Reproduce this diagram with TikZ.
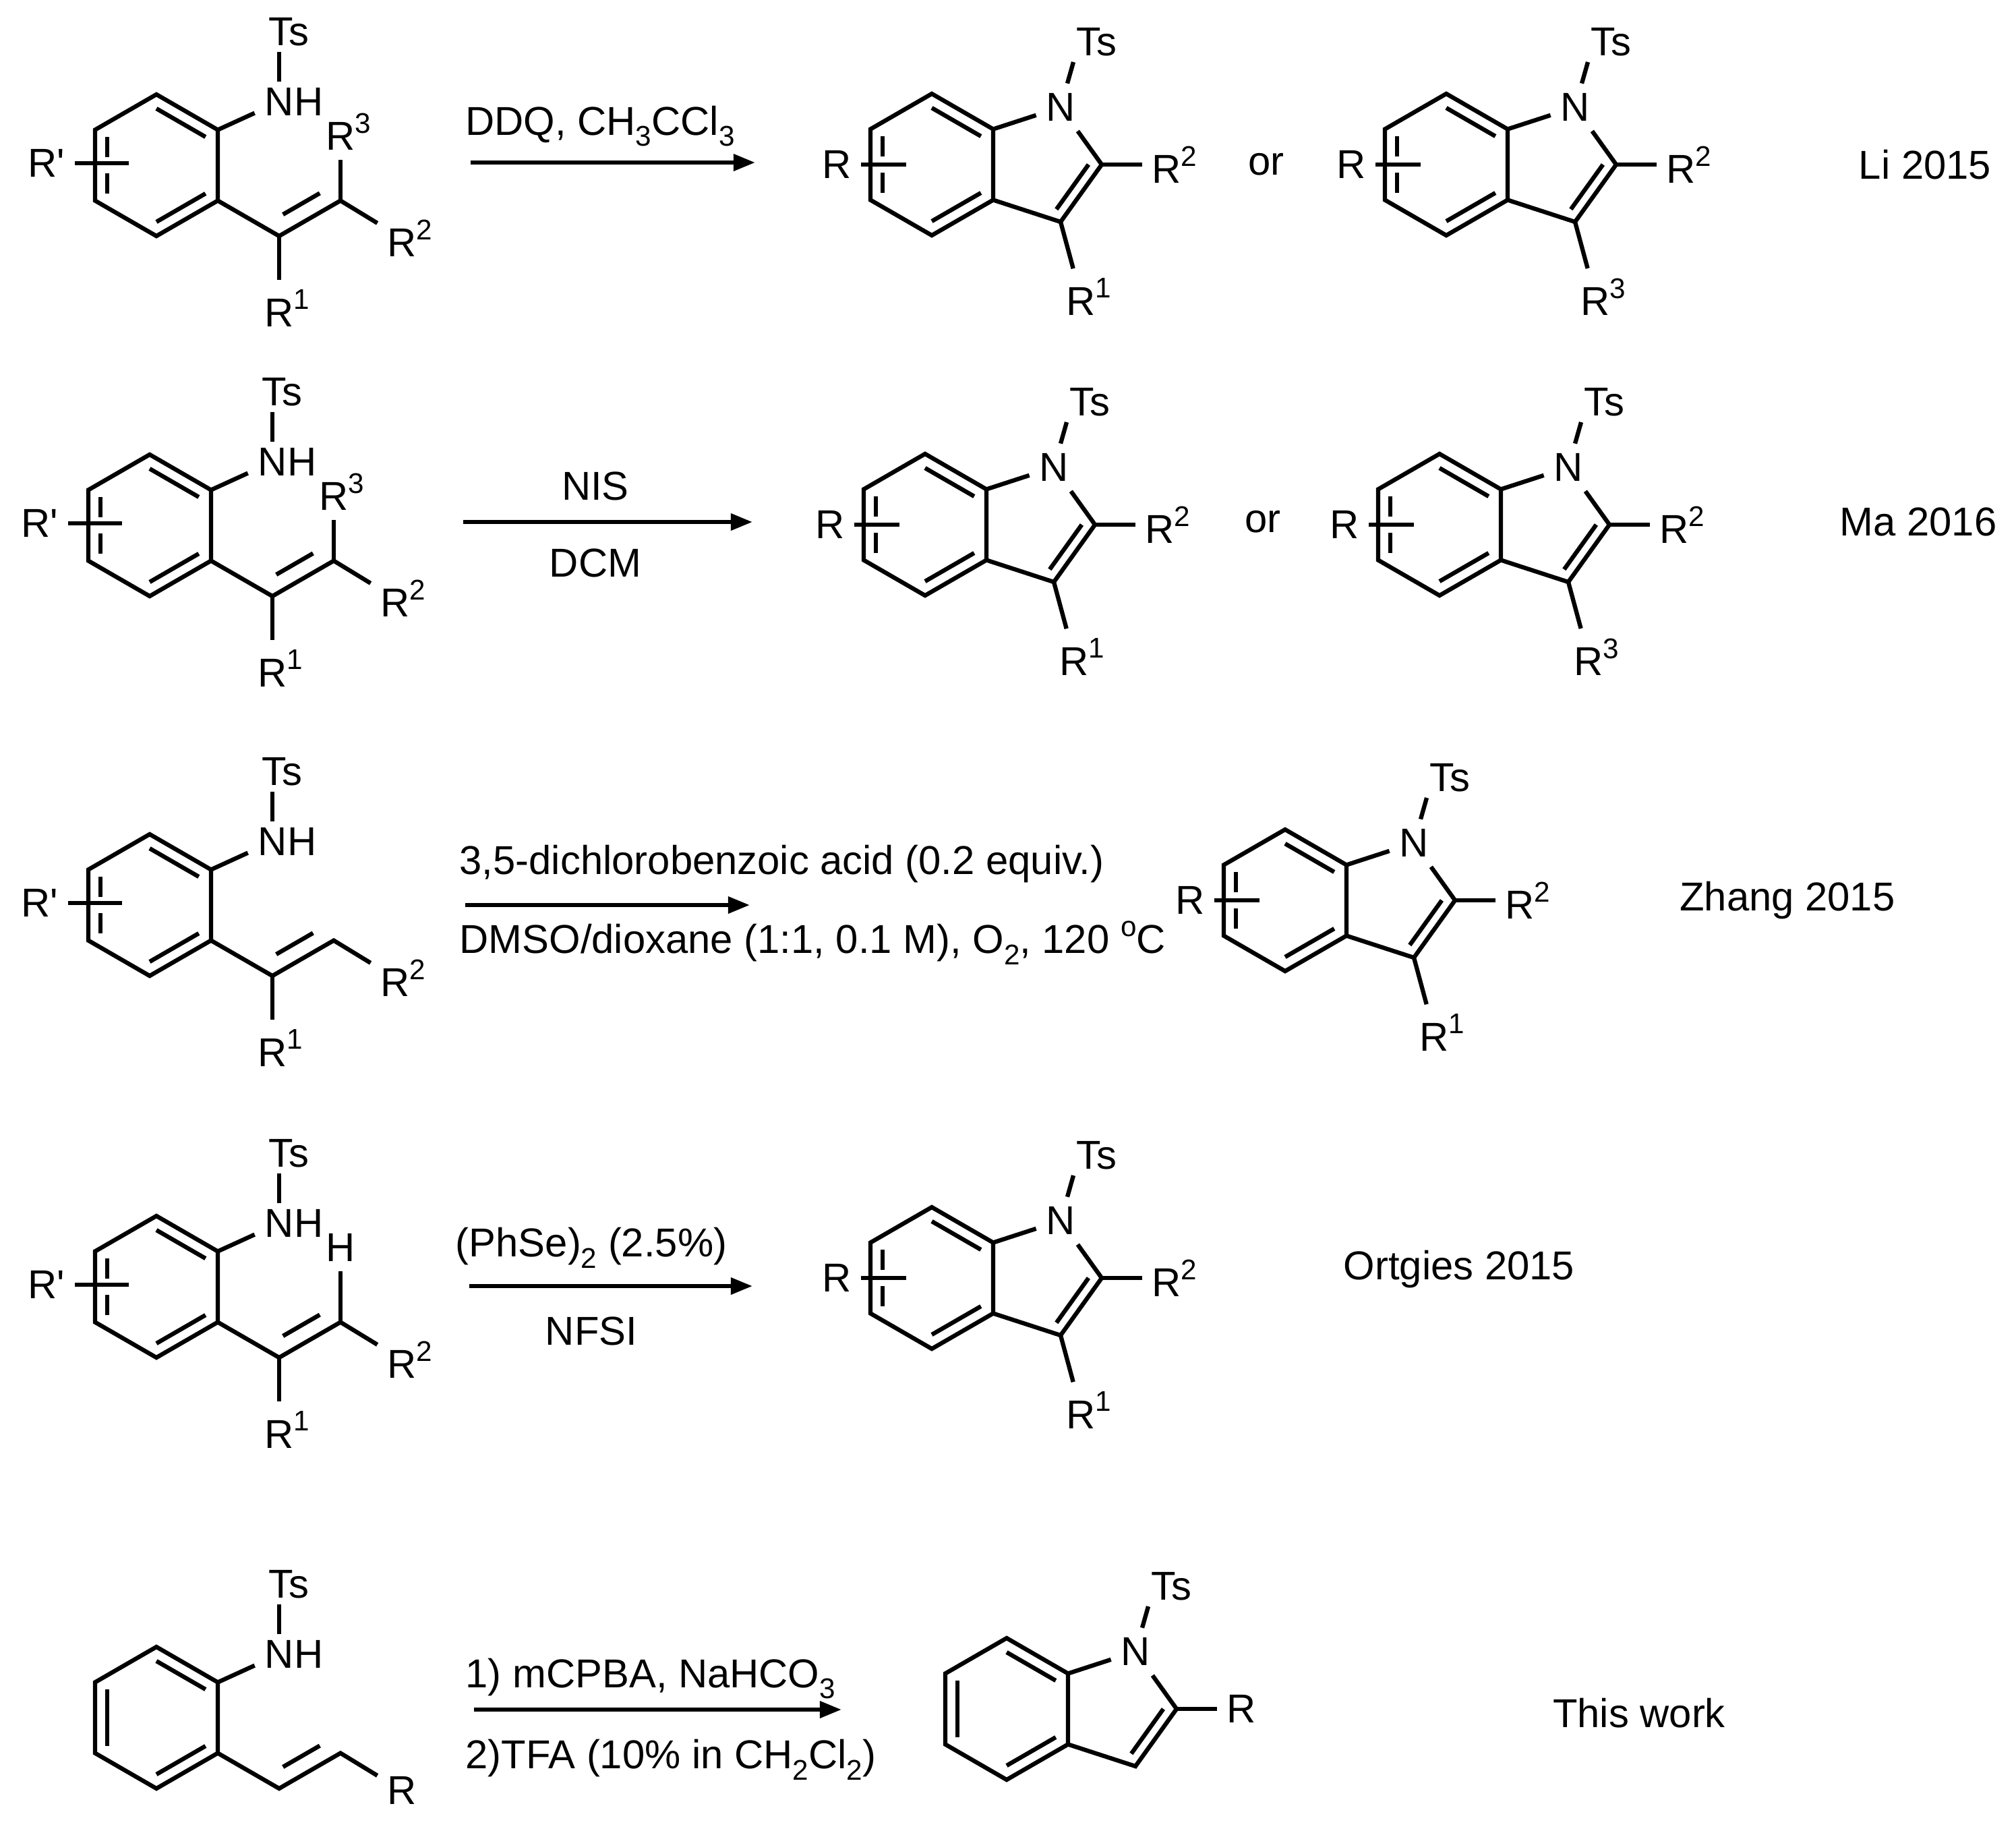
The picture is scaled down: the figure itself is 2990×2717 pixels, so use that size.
\documentclass[tikz,border=0pt]{standalone}
\usepackage{fontspec}
\setmainfont{Liberation Sans}
\usetikzlibrary{calc,arrows.meta}
\newcommand\chemfont{\fontsize{17}{20}\selectfont}
\newcommand\chemsup[1]{\raisebox{0.42em}{\fontsize{12}{12}\selectfont #1}}
\newcommand\chemsub[1]{\raisebox{-0.28em}{\fontsize{12}{12}\selectfont #1}}
\newcommand\Rn[1]{R\rlap{\chemsup{#1}}}
\tikzset{
  bond/.style={line width=1.8pt},
  atom/.style={inner sep=4pt,font=\chemfont},
  txt/.style={inner sep=0pt,font=\chemfont},
  arr/.style={line width=1.8pt,-{Triangle[length=0.32cm,width=0.24cm]}}
}
% aniline core: prefix, cx, cy, R2 label
\newcommand\anil[4]{%
 \coordinate (#1c) at (#2,#3);
 \coordinate (#1a) at (#2,{#3-105});
 \coordinate (#1b) at ({#2+91},{#3-52.5});
 \coordinate (#1d) at ({#2+91},{#3+52.5});
 \coordinate (#1e) at (#2,{#3+105});
 \coordinate (#1f) at ({#2-91},{#3+52.5});
 \coordinate (#1g) at ({#2-91},{#3-52.5});
 \draw[bond] (#1a)--(#1b)--(#1d)--(#1e)--(#1f)--(#1g)--cycle;
 \draw[bond] ($(#1a)!0.2!(#1c)$)--($(#1b)!0.2!(#1c)$);
 \draw[bond] ($(#1d)!0.2!(#1c)$)--($(#1e)!0.2!(#1c)$);
 \node[atom] (#1N) at ({#2+182},{#3-94}) {N};
 \node[txt,anchor=west,xshift=-4pt] (#1H) at (#1N.east) {H};
 \node[atom] (#1Ts) at ({#2+196},{#3-198}) {Ts};
 \draw[bond] (#1b)--(#1N);
 \draw[bond,shorten <=-1.5pt,shorten >=-1.5pt] (#1N)--(#1N |- #1Ts.south);
 \coordinate (#1Ca) at ({#2+182},{#3+105});
 \coordinate (#1Cb) at ({#2+273},{#3+52.5});
 \node[atom] (#1R2) at ({#2+364},{#3+108}) {#4};
 \draw[bond] (#1d)--(#1Ca)--(#1Cb)--(#1R2);
 \draw[bond] ($(#1Ca)+(5.7,-32)$)--($(#1Cb)+(-30.7,-11)$);
}
% R' substituent on aniline ring
\newcommand\rprime[3]{%
 \draw[bond] ({#2-73},{#3-42})--({#2-73},{#3-12});
 \draw[bond] ({#2-73},{#3+12})--({#2-73},{#3+42});
 \node[atom] (#1Rp) at ({#2-163},{#3-3}) {R\textquotesingle};
 \coordinate (#1Rpe) at ({#2-41},{#3-3});
 \draw[bond] (#1Rp)--(#1Rpe);
}
% indole core: prefix, cx, cy, C2 label
\newcommand\indo[4]{%
 \coordinate (#1c) at (#2,#3);
 \coordinate (#1a) at (#2,{#3-105});
 \coordinate (#1b) at ({#2+91},{#3-52.5});
 \coordinate (#1d) at ({#2+91},{#3+52.5});
 \coordinate (#1e) at (#2,{#3+105});
 \coordinate (#1f) at ({#2-91},{#3+52.5});
 \coordinate (#1g) at ({#2-91},{#3-52.5});
 \coordinate (#1pc) at ({#2+163},#3);
 \coordinate (#1C2) at ({#2+252},#3);
 \coordinate (#1C3) at ({#2+191},{#3+85});
 \node[atom] (#1N) at ({#2+191},{#3-85}) {N};
 \draw[bond] (#1a)--(#1b)--(#1d)--(#1e)--(#1f)--(#1g)--cycle;
 \draw[bond] ($(#1a)!0.2!(#1c)$)--($(#1b)!0.2!(#1c)$);
 \draw[bond] ($(#1d)!0.2!(#1c)$)--($(#1e)!0.2!(#1c)$);
 \draw[bond] (#1b)--(#1N)--(#1C2)--(#1C3)--(#1d);
 \draw[bond] ($(#1C2)!0.22!(#1pc)$)--($(#1C3)!0.22!(#1pc)$);
 \node[atom] (#1Ts) at ({#2+244},{#3-182}) {Ts};
 \coordinate (#1Tse) at ({#2+210},{#3-152});
 \draw[bond] (#1N)--(#1Tse);
 \node[atom] (#1R2) at ({#2+348},#3) {#4};
 \draw[bond] (#1C2)--(#1R2);
}
\newcommand\ringR[3]{%
 \draw[bond] ({#2-73},{#3-42})--({#2-73},{#3-12});
 \draw[bond] ({#2-73},{#3+12})--({#2-73},{#3+42});
 \node[atom] (#1R) at ({#2-141},#3) {R};
 \coordinate (#1Re) at ({#2-38},#3);
 \draw[bond] (#1R)--(#1Re);
}
\newcommand\indoRone[4]{% prefix cx cy label
 \node[atom] (#1R1) at ({#2+221},{#3+196}) {#4};
 \draw[bond] (#1C3)--(#1R1);
}
\begin{document}
\begin{tikzpicture}[x=0.01cm,y=-0.01cm]
\useasboundingbox (0,0) rectangle (2990,2717);
% ---------- row 1 ----------
\anil{sa}{232}{245}{\Rn{2}}
\rprime{sa}{232}{245}
\node[atom] (saR1) at (414,457) {\Rn{1}};
\draw[bond] (saCa)--(saR1);
\node[atom] (saR3) at (505,195) {\Rn{3}};
\draw[bond] (saCb)--(saR3);
\coordinate (aas) at (698,241); \coordinate (aae) at (1120,241);
\draw[arr] (aas)--(aae);
\node[txt] (ta1) at (890,187) {DDQ, CH\chemsub{3}CCl\chemsub{3}};
\indo{pa}{1382}{244}{\Rn{2}} \ringR{pa}{1382}{244} \indoRone{pa}{1382}{244}{\Rn{1}}
\node[txt] (ora) at (1878,244) {or};
\indo{qa}{2145}{244}{\Rn{2}} \ringR{qa}{2145}{244} \indoRone{qa}{2145}{244}{\Rn{3}}
\node[txt] (la) at (2855,244) {Li 2015};
% ---------- row 2 ----------
\anil{sb}{222}{779}{\Rn{2}}
\rprime{sb}{222}{779}
\node[atom] (sbR1) at (404,991) {\Rn{1}};
\draw[bond] (sbCa)--(sbR1);
\node[atom] (sbR3) at (495,729) {\Rn{3}};
\draw[bond] (sbCb)--(sbR3);
\coordinate (abs) at (687,774); \coordinate (abe) at (1116,774);
\draw[arr] (abs)--(abe);
\node[txt] (tb1) at (883,721) {NIS};
\node[txt] (tb2) at (883,835) {DCM};
\indo{pb}{1372}{778}{\Rn{2}} \ringR{pb}{1372}{778} \indoRone{pb}{1372}{778}{\Rn{1}}
\node[txt] (orb) at (1873,774) {or};
\indo{qb}{2135}{778}{\Rn{2}} \ringR{qb}{2135}{778} \indoRone{qb}{2135}{778}{\Rn{3}}
\node[txt] (lb) at (2845,774) {Ma 2016};
% ---------- row 3 ----------
\anil{sc}{222}{1342}{\Rn{2}}
\rprime{sc}{222}{1342}
\node[atom] (scR1) at (404,1554) {\Rn{1}};
\draw[bond] (scCa)--(scR1);
\coordinate (acs) at (690,1342); \coordinate (ace) at (1112,1342);
\draw[arr] (acs)--(ace);
\node[txt,anchor=west] (tc1) at (681,1281) {3,5-dichlorobenzoic acid (0.2 equiv.)};
\node[txt,anchor=west] (tc2) at (681,1398) {DMSO/dioxane (1:1, 0.1 M), O\chemsub{2}, 120 \chemsup{o}C};
\indo{pc}{1906}{1335}{\Rn{2}} \ringR{pc}{1906}{1335} \indoRone{pc}{1906}{1335}{\Rn{1}}
\node[txt] (lc) at (2651,1335) {Zhang 2015};
% ---------- row 4 ----------
\anil{sd}{232}{1908}{\Rn{2}}
\rprime{sd}{232}{1908}
\node[atom] (sdR1) at (414,2120) {\Rn{1}};
\draw[bond] (sdCa)--(sdR1);
\node[atom] (sdH) at (505,1850) {H};
\draw[bond] (sdCb)--(sdH);
\coordinate (ads) at (696,1907); \coordinate (ade) at (1116,1907);
\draw[arr] (ads)--(ade);
\node[txt] (td1) at (877,1850) {(PhSe)\chemsub{2} (2.5\%)};
\node[txt] (td2) at (877,1974) {NFSI};
\indo{pd}{1382}{1895}{\Rn{2}} \ringR{pd}{1382}{1895} \indoRone{pd}{1382}{1895}{\Rn{1}}
\node[txt] (ld) at (2164,1882) {Ortgies 2015};
% ---------- row 5 ----------
\anil{se}{232}{2547}{R}
\draw[bond] ($(sef)!0.2!(sec)$)--($(seg)!0.2!(sec)$);
\coordinate (aes) at (703,2535); \coordinate (aee) at (1248,2535);
\draw[arr] (aes)--(aee);
\node[txt,anchor=west] (te1) at (690,2489) {1) mCPBA, NaHCO\chemsub{3}};
\node[txt,anchor=west] (te2) at (690,2609) {2)TFA (10\% in CH\chemsub{2}Cl\chemsub{2})};
\indo{pe}{1493}{2534}{R}
\draw[bond] ($(pef)!0.2!(pec)$)--($(peg)!0.2!(pec)$);
\node[txt] (le) at (2431,2540) {This work};
\end{tikzpicture}
\end{document}
